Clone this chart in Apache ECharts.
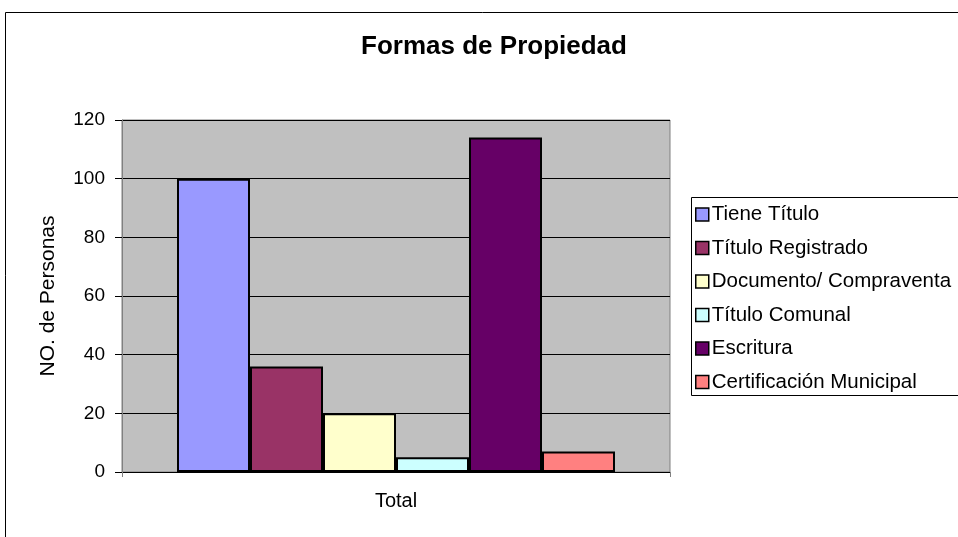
<!DOCTYPE html>
<html>
<head>
<meta charset="utf-8">
<script src="https://cdn.jsdelivr.net/npm/echarts@6/dist/echarts.min.js"></script>
<style>
  html, body { margin: 0; padding: 0; background: #fff; }
  #chart { width: 958px; height: 537px; }
</style>
</head>
<body>
<div id="chart"></div>
<script>
// datos
const categorias = ['Total'];
const seriesNombres = ['Tiene Título', 'Título Registrado', 'Documento/ Compraventa', 'Título Comunal', 'Escritura', 'Certificación Municipal'];
const seriesValores = [100, 36, 20, 5, 114, 7];
const colores = ['#9999FF', '#993366', '#FFFFCC', '#CCFFFF', '#660066', '#FF8080'];

const fuente = 'Liberation Sans, Arial, sans-serif';
const myChart = echarts.init(document.getElementById('chart'));

const series = seriesNombres.map((nombre, i) => ({
  name: nombre,
  type: 'bar',
  data: [seriesValores[i]],
  barWidth: 73,
  barGap: '0%',
  itemStyle: { color: colores[i], borderColor: '#000', borderWidth: 2 }
}));

myChart.setOption({
  animation: false,
  textStyle: { fontFamily: fuente },
  title: {
    text: 'Formas de Propiedad',
    left: 489,
    textAlign: 'center',
    top: 29,
    textStyle: { fontSize: 26, fontWeight: 'bold', color: '#000', fontFamily: fuente }
  },
  graphic: [
    // marco exterior del grafico
    { type: 'rect', shape: { x: 5.5, y: 12.5, width: 1000, height: 600 }, style: { fill: 'none', stroke: '#000', lineWidth: 1 }, z: 0 },
    // marco de la leyenda
    { type: 'rect', shape: { x: 691.5, y: 197.5, width: 300, height: 198 }, style: { fill: '#fff', stroke: '#000', lineWidth: 1 }, z: 0 }
  ],
  legend: {
    orient: 'vertical',
    left: 695,
    top: 204,
    padding: 0,
    itemWidth: 13,
    itemHeight: 13,
    itemGap: 12.5,
    icon: 'rect',
    itemStyle: { borderColor: '#000', borderWidth: 1.5 },
    textStyle: { fontSize: 20.5, color: '#000', lineHeight: 20, fontFamily: fuente, padding: [0, 0, 0, -2] },
    data: seriesNombres
  },
  grid: {
    left: 122,
    right: 288,
    top: 120,
    bottom: 65,
    show: true,
    backgroundColor: '#C0C0C0',
    borderColor: '#808080',
    borderWidth: 1
  },
  xAxis: {
    type: 'category',
    data: categorias,
    axisLine: { lineStyle: { color: '#000' } },
    axisTick: { show: true, length: 5, lineStyle: { color: '#808080' } },
    axisLabel: { fontSize: 20, color: '#000', margin: 19 }
  },
  yAxis: {
    type: 'value',
    min: 0,
    max: 120,
    interval: 20,
    name: 'NO. de Personas',
    nameLocation: 'middle',
    nameRotate: 90,
    nameGap: 63,
    nameTextStyle: { fontSize: 21, color: '#000' },
    axisLine: { show: true, lineStyle: { color: '#808080' } },
    axisTick: { show: true, length: 7, lineStyle: { color: '#000' } },
    axisLabel: { fontSize: 19, color: '#000', margin: 17 },
    splitLine: { lineStyle: { color: '#000', width: 1 } }
  },
  series: series
});
</script>
</body>
</html>
